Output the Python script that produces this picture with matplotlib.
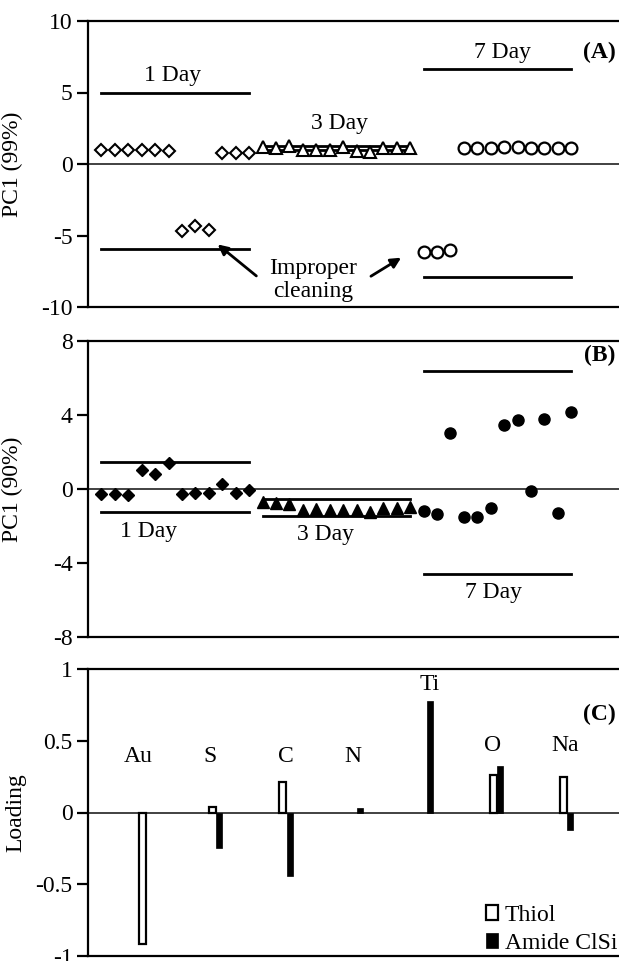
import numpy as np
from matplotlib import pyplot as plt

plt.rcParams['font.family'] = ['Liberation Serif', 'DejaVu Serif']
plt.rcParams['axes.unicode_minus'] = False
plt.rcParams['font.size'] = 17

# sample index per group (12 samples each)
x1 = np.arange(1, 13)
x3 = np.arange(13, 25)
x7 = np.arange(25, 37)

# (A) PC1 99%
a_day1 = [1.0, 0.97, 0.97, 0.97, 0.97, 0.92, -4.72, -4.32, -4.65, 0.75, 0.78, 0.8]
a_day3 = [1.2, 1.15, 1.25, 1.0, 1.0, 1.0, 1.2, 0.9, 0.85, 1.1, 1.1, 1.15]
a_day7 = [-6.15, -6.15, -6.0, 1.15, 1.15, 1.15, 1.2, 1.2, 1.15, 1.15, 1.15, 1.15]
a_lim1 = [5.0, -5.95]
a_lim3 = [1.25, 0.95]
a_lim7 = [6.65, -7.9]

# (B) PC1 90%
b_day1 = [-0.29, -0.29, -0.34, 1.03, 0.79, 1.42, -0.29, -0.2, -0.23, 0.27, -0.22, -0.05]
b_day3 = [-0.68, -0.74, -0.81, -1.13, -1.1, -1.13, -1.13, -1.15, -1.22, -1.04, -1.04, -0.99]
b_day7 = [-1.19, -1.35, 3.04, -1.49, -1.51, -1.03, 3.45, 3.72, -0.09, 3.76, -1.29, 4.14]
b_lim1 = [1.47, -1.22]
b_lim3 = [-0.56, -1.44]
b_lim7 = [6.37, -4.6]

# (C) loadings (None = no bar)
elements = ['Au', 'S', 'C', 'N', 'Ti', 'O', 'Na']
thiol = [-0.915, 0.04, 0.215, None, None, 0.26, 0.245]
amide = [None, -0.245, -0.445, 0.03, 0.78, 0.325, -0.125]

fig = plt.figure(figsize=(6.19, 9.61), dpi=100)
left, width = 88 / 619, 537 / 619
axA = fig.add_axes([left, 1 - 307 / 961, width, 286 / 961])
axB = fig.add_axes([left, 1 - 637 / 961, width, 296 / 961])
axC = fig.add_axes([left, 1 - 956 / 961, width, 287 / 961])


def style(ax):
    ax.spines['right'].set_visible(False)
    for s in ['left', 'top', 'bottom']:
        ax.spines[s].set_linewidth(1.6)
    ax.tick_params(axis='y', direction='out', length=8, width=1.6, pad=3)
    ax.tick_params(axis='x', bottom=False, labelbottom=False)
    ax.axhline(0, color='#333333', lw=1.3, zorder=1)


def limits(ax, xs, lims):
    for v in lims:
        ax.plot([xs[0], xs[-1]], [v, v], color='k', lw=2, zorder=2)


# panel A
style(axA)
axA.set_xlim(0, 40)
axA.set_ylim(-10, 10)
axA.set_yticks([-10, -5, 0, 5, 10])
axA.plot(x1, a_day1, 'D', ms=6, mfc='white', mec='k', mew=1.5, zorder=3)
axA.plot(x3, a_day3, '^', ms=8.5, mfc='white', mec='k', mew=1.5, zorder=3)
axA.plot(x7, a_day7, 'o', ms=8.5, mfc='white', mec='k', mew=1.6, zorder=3)
limits(axA, x1, a_lim1)
limits(axA, x3, a_lim3)
limits(axA, x7, a_lim7)
axA.text(6.3, 6.2, '1 Day', ha='center', va='center')
axA.text(18.7, 2.85, '3 Day', ha='center', va='center')
axA.text(30.9, 7.8, '7 Day', ha='center', va='center')
axA.text(16.8, -8.1, 'Improper\ncleaning', ha='center', va='center', linespacing=1.1)
axA.annotate('', xy=(9.5, -5.5), xytext=(12.7, -7.95),
             arrowprops=dict(arrowstyle='-|>', color='k', lw=2, mutation_scale=15))
axA.annotate('', xy=(23.5, -6.45), xytext=(20.9, -7.95),
             arrowprops=dict(arrowstyle='-|>', color='k', lw=2, mutation_scale=15))
axA.text(0.952, 0.89, '(A)', transform=axA.transAxes, ha='center', va='center',
         fontweight='bold')
axA.set_ylabel('PC1 (99%)')
axA.yaxis.set_label_coords(-0.121, 0.5)

# panel B
style(axB)
axB.set_xlim(0, 40)
axB.set_ylim(-8, 8)
axB.set_yticks([-8, -4, 0, 4, 8])
axB.plot(x1, b_day1, 'D', ms=6, color='k', zorder=3)
axB.plot(x3, b_day3, '^', ms=8, color='k', zorder=3)
axB.plot(x7, b_day7, 'o', ms=8, color='k', zorder=3)
limits(axB, x1, b_lim1)
limits(axB, x3, b_lim3)
limits(axB, x7, b_lim7)
axB.text(4.5, -2.3, '1 Day', ha='center', va='center')
axB.text(17.7, -2.48, '3 Day', ha='center', va='center')
axB.text(30.2, -5.6, '7 Day', ha='center', va='center')
axB.text(0.952, 0.95, '(B)', transform=axB.transAxes, ha='center', va='center',
         fontweight='bold')
axB.set_ylabel('PC1 (90%)')
axB.yaxis.set_label_coords(-0.121, 0.5)

# panel C
style(axC)
pos = np.arange(len(elements))
thiol_v = np.array([np.nan if v is None else v for v in thiol])
amide_v = np.array([np.nan if v is None else v for v in amide])
ht = ~np.isnan(thiol_v)
ha_ = ~np.isnan(amide_v)
axC.set_xlim(-0.825, 6.83)
axC.set_ylim(-1, 1)
axC.set_yticks([-1, -0.5, 0, 0.5, 1])
axC.set_yticklabels(['-1', '-0.5', '0', '0.5', '1'])
axC.bar(pos[ht] - 0.048, thiol_v[ht], width=0.1, color='white', edgecolor='k', lw=1.6,
        label='Thiol', zorder=3)
axC.bar(pos[ha_] + 0.048, amide_v[ha_], width=0.085, color='k', edgecolor='k', lw=0.5,
        label='Amide ClSi', zorder=3)
label_dx = [-0.11, -0.09, 0.0, -0.05, 0.04, -0.06, -0.02]
label_y = [0.39, 0.39, 0.39, 0.39, 0.89, 0.47, 0.47]
for p, name, dx, ly in zip(pos, elements, label_dx, label_y):
    axC.text(p + dx, ly, name, ha='center', va='center')
axC.text(0.952, 0.84, '(C)', transform=axC.transAxes, ha='center', va='center',
         fontweight='bold')
axC.set_ylabel('Loading')
axC.yaxis.set_label_coords(-0.115, 0.5)
axC.legend(loc='lower left', bbox_to_anchor=(0.71, -0.05), frameon=False,
           handlelength=0.5, handleheight=0.6, handletextpad=0.3, labelspacing=0.3,
           borderpad=0.2, fontsize=17)

fig.savefig('out.png', dpi=100)
